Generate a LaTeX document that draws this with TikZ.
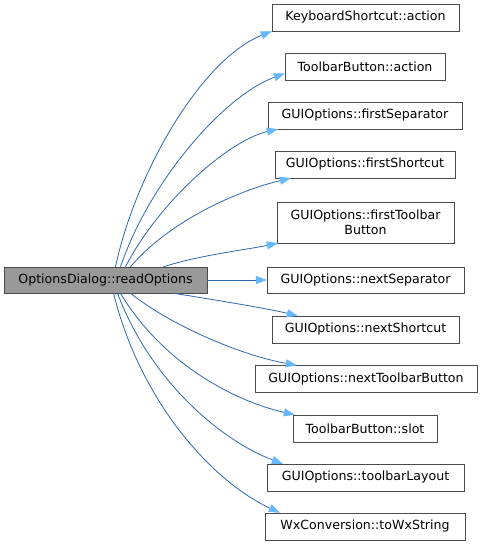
\documentclass[tikz,border=0pt]{standalone}
\usepackage{fontspec}
\usetikzlibrary{arrows.meta}
\newfontfamily\doxfont{DejaVu Sans}
\definecolor{edgeblue}{HTML}{2A68B0}
\definecolor{tipblue}{HTML}{63B8FF}
\definecolor{boxline}{HTML}{4A4A4A}

\begin{document}
\begin{tikzpicture}[x=1pt,y=-1pt,
  fn/.style={draw=boxline,fill=white,minimum height=27pt,inner xsep=4pt,
             font=\doxfont\fontsize{12.6}{15}\selectfont,align=center},
  root/.style={fn,fill=black!40,minimum height=26pt},
  arr/.style={-{Triangle[length=11pt,width=8pt,color=tipblue]},draw=edgeblue,line width=0.8pt}
]
\useasboundingbox (0,0) rectangle (483,545);

\node[root,minimum width=203pt] (src) at (105.5,280) {OptionsDialog::readOptions};
\node[fn,minimum width=187pt] (ks) at (365.5,17.5) {KeyboardShortcut::action};
\node[fn,minimum width=160pt] (tba) at (365,66.5) {ToolbarButton::action};
\node[fn,minimum width=194pt] (fsep) at (365,115.5) {GUIOptions::firstSeparator};
\node[fn,minimum width=180pt] (fsc) at (365,164.5) {GUIOptions::firstShortcut};
\node[fn,minimum width=177pt,minimum height=41pt] (ftb) at (365.5,222.5) {GUIOptions::firstToolbar\\Button};
\node[fn,minimum width=197pt,minimum height=26pt] (nsep) at (365.5,280) {GUIOptions::nextSeparator};
\node[fn,minimum width=187pt] (nsc) at (365.5,329.5) {GUIOptions::nextShortcut};
\node[fn,minimum width=222pt] (ntb) at (366,379) {GUIOptions::nextToolbarButton};
\node[fn,minimum width=144pt] (slot) at (365,428.5) {ToolbarButton::slot};
\node[fn,minimum width=197pt] (tl) at (365.5,477.5) {GUIOptions::toolbarLayout};
\node[fn,minimum width=200pt] (wx) at (365,526.5) {WxConversion::toWxString};

\draw[arr] ([xshift=10pt]src.north) .. controls (135,175) and (200,60) .. (ks.south west);
\draw[arr] ([xshift=15pt]src.north) .. controls (150,180) and (225,95) .. ([yshift=-7pt]tba.west);
\draw[arr] ([xshift=20pt]src.north) .. controls (160,200) and (230,140) .. ([xshift=10pt]fsep.south west);
\draw[arr] ([xshift=25pt]src.north) .. controls (170,220) and (240,190) .. ([xshift=16pt]fsc.south west);
\draw[arr] ([xshift=58pt]src.north) .. controls (200,255) and (245,250) .. ([xshift=1pt]ftb.south west);
\draw[arr] (src.east) -- (nsep.west);
\draw[arr] ([xshift=68pt]src.south) .. controls (215,300) and (265,308) .. ([xshift=26pt]nsc.north west);
\draw[arr] ([xshift=25pt]src.south) .. controls (170,325) and (240,355) .. ([xshift=42pt]ntb.north west);
\draw[arr] ([xshift=15pt]src.south) .. controls (160,360) and (230,400) .. ([xshift=2pt]slot.north west);
\draw[arr] ([xshift=12pt]src.south) .. controls (150,380) and (220,440) .. ([xshift=16pt]tl.north west);
\draw[arr] ([xshift=8pt]src.south) .. controls (140,400) and (210,480) .. ([xshift=15pt]wx.north west);
\end{tikzpicture}
\end{document}
